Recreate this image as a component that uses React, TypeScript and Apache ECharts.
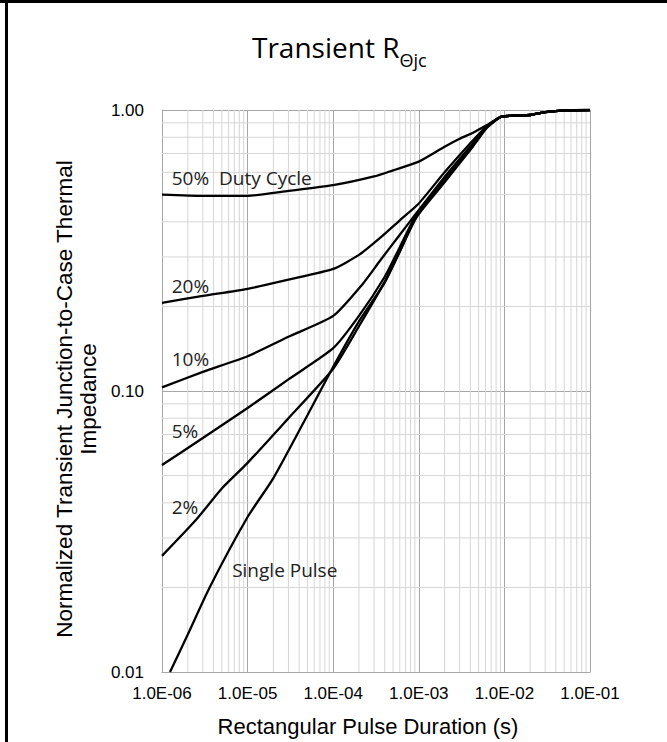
import React, { useEffect, useRef } from "react";
import * as echarts from "echarts";

// ---- tick labels ----
const xTickLabels = ["1.0E-06", "1.0E-05", "1.0E-04", "1.0E-03", "1.0E-02", "1.0E-01"];
const yTickLabels = ["0.01", "0.10", "1.00"];

// minor log grid values (2..9 of every decade)
const xMinor = [2e-6, 3e-6, 4e-6, 5e-6, 6e-6, 7e-6, 8e-6, 9e-6,
  2e-5, 3e-5, 4e-5, 5e-5, 6e-5, 7e-5, 8e-5, 9e-5,
  2e-4, 3e-4, 4e-4, 5e-4, 6e-4, 7e-4, 8e-4, 9e-4,
  2e-3, 3e-3, 4e-3, 5e-3, 6e-3, 7e-3, 8e-3, 9e-3,
  2e-2, 3e-2, 4e-2, 5e-2, 6e-2, 7e-2, 8e-2, 9e-2];
const yMinor = [0.02, 0.03, 0.04, 0.05, 0.06, 0.07, 0.08, 0.09,
  0.2, 0.3, 0.4, 0.5, 0.6, 0.7, 0.8, 0.9];

// ---- series data: pulse duration (s) and normalized Zth ----
const t50 = [1e-6, 3e-6, 1e-5, 3e-5, 1e-4, 3e-4, 5e-4, 1e-3, 2e-3, 3e-3, 4.3e-3, 6.3e-3, 9.3e-3, 2e-2, 3e-2, 5e-2, 1e-1];
const z50 = [0.50, 0.495, 0.495, 0.515, 0.54, 0.58, 0.61, 0.655, 0.74, 0.79, 0.83, 0.885, 0.947, 0.96, 0.982, 0.997, 1.0];

const t20 = [1e-6, 3e-6, 1e-5, 3e-5, 1e-4, 2e-4, 3.5e-4, 6e-4, 1e-3, 2e-3, 4.3e-3, 6.3e-3, 9.3e-3, 2e-2, 3e-2, 5e-2, 1e-1];
const z20 = [0.206, 0.218, 0.231, 0.249, 0.272, 0.305, 0.35, 0.405, 0.465, 0.60, 0.78, 0.88, 0.947, 0.96, 0.982, 0.997, 1.0];

const t10 = [1e-6, 3e-6, 1e-5, 3e-5, 1e-4, 2.2e-4, 3.5e-4, 6e-4, 9.4e-4, 2e-3, 4.3e-3, 6.3e-3, 9.3e-3, 2e-2, 3e-2, 5e-2, 1e-1];
const z10 = [0.103, 0.117, 0.133, 0.156, 0.185, 0.24, 0.29, 0.36, 0.43, 0.578, 0.762, 0.876, 0.947, 0.96, 0.982, 0.997, 1.0];

const t5 = [1e-6, 3e-6, 1e-5, 3e-5, 1e-4, 2e-4, 4e-4, 6e-4, 9.4e-4, 2e-3, 4.3e-3, 6.3e-3, 9.3e-3, 2e-2, 3e-2, 5e-2, 1e-1];
const z5 = [0.0545, 0.068, 0.087, 0.11, 0.142, 0.185, 0.255, 0.325, 0.425, 0.568, 0.755, 0.872, 0.947, 0.96, 0.982, 0.997, 1.0];

const t2 = [1e-6, 2.5e-6, 5e-6, 1e-5, 3e-5, 1e-4, 2e-4, 4e-4, 6e-4, 9.4e-4, 2e-3, 4.3e-3, 6.3e-3, 9.3e-3, 2e-2, 3e-2, 5e-2, 1e-1];
const z2 = [0.0259, 0.0348, 0.045, 0.0555, 0.08, 0.12, 0.17, 0.245, 0.315, 0.42, 0.562, 0.75, 0.87, 0.947, 0.96, 0.982, 0.997, 1.0];

const tSingle = [1.24e-6, 2e-6, 3.6e-6, 1e-5, 2e-5, 5e-5, 1e-4, 2e-4, 4e-4, 6e-4, 9.4e-4, 2e-3, 4.3e-3, 6.3e-3, 9.3e-3, 2e-2, 3e-2, 5e-2, 1e-1];
const zSingle = [0.01, 0.0136, 0.02, 0.0356, 0.049, 0.082, 0.122, 0.177, 0.243, 0.313, 0.415, 0.553, 0.742, 0.866, 0.947, 0.96, 0.982, 0.997, 1.0];

const seriesNames = ["50%", "20%", "10%", "5%", "2%", "Single Pulse"];
const seriesT = [t50, t20, t10, t5, t2, tSingle];
const seriesZ = [z50, z20, z10, z5, z2, zSingle];

// curve annotation text and anchor (duration, Zth)
const curveLabels = ["50%  Duty Cycle", "20%", "10%", "5%", "2%", "Single Pulse"];
const labelT = [1.3e-6, 1.3e-6, 1.3e-6, 1.3e-6, 1.3e-6, 6.6e-6];
const labelZ = [0.575, 0.237, 0.130, 0.0721, 0.0387, 0.0231];

const X_MIN = 1e-6, X_MAX = 1e-1, Y_MIN = 0.01, Y_MAX = 1;

const AXIS_FONT = "'Liberation Sans', Arial, sans-serif";
const TEXT_FONT = "'Open Sans', 'Noto Sans', sans-serif";

export default function App() {
  const ref = useRef<HTMLDivElement>(null);

  useEffect(() => {
    if (!ref.current) return;
    const chart = echarts.init(ref.current, undefined, { renderer: "svg" });

    const curves = seriesNames.map((name, i) => ({
      name,
      type: "line",
      z: 3,
      data: seriesT[i].map((t, k) => [t, seriesZ[i][k]]),
      symbol: "none",
      smooth: 0.2,
      lineStyle: { color: "#000", width: 2.3 },
      itemStyle: { color: "#000" },
      emphasis: { disabled: true },
      markPoint: {
        silent: true,
        symbol: "circle",
        symbolSize: 0,
        data: [{ name: curveLabels[i], coord: [labelT[i], labelZ[i]] }],
        label: {
          show: true,
          position: "right",
          distance: 0,
          formatter: "{b}",
          color: "#222",
          fontSize: 19,
          fontFamily: TEXT_FONT,
        },
      },
    }));

    const vMinorData: any[] = [];
    xMinor.forEach((v) => { vMinorData.push([v, Y_MIN], [v, Y_MAX], [v, "-"]); });
    const hMinorData: any[] = [];
    yMinor.forEach((v) => { hMinorData.push([X_MIN, v], [X_MAX, v], ["-", v]); });

    const minorSeries = (name: string, data: any[]) => ({
      name,
      type: "line",
      z: 1,
      data,
      silent: true,
      symbol: "none",
      connectNulls: false,
      lineStyle: { color: "#d6d6d6", width: 1 },
      emphasis: { disabled: true },
    });

    const option: any = {
      animation: false,
      backgroundColor: "#fff",
      title: {
        text: "{a|Transient R}{b|Θjc}",
        left: 247,
        top: 24,
        textStyle: {
          rich: {
            a: { fontSize: 28, fontWeight: "normal", fontFamily: TEXT_FONT, color: "#000", lineHeight: 36 },
            b: { fontSize: 18, fontWeight: "normal", fontFamily: TEXT_FONT, color: "#000", verticalAlign: "bottom", padding: [0, 0, -4, 0] },
          },
        },
      },
      grid: { left: 162, right: 77, top: 110, bottom: 70 },
      xAxis: {
        type: "log",
        logBase: 10,
        min: X_MIN,
        max: X_MAX,
        name: "Rectangular Pulse Duration (s)",
        nameLocation: "middle",
        nameGap: 43,
        nameTextStyle: { fontSize: 22, fontFamily: AXIS_FONT, color: "#000", padding: [0, 16, 0, 0] },
        axisLine: { show: true, lineStyle: { color: "#a6a6a6", width: 1 } },
        axisTick: { show: false },
        axisLabel: {
          fontSize: 17,
          fontFamily: AXIS_FONT,
          color: "#000",
          margin: 13,
          formatter: (v: number) => xTickLabels[Math.round(Math.log10(v)) + 6],
        },
        splitLine: { show: true, lineStyle: { color: "#a6a6a6", width: 1 } },
      },
      yAxis: {
        type: "log",
        logBase: 10,
        min: Y_MIN,
        max: Y_MAX,
        name: "Normalized Transient Junction-to-Case Thermal\nImpedance",
        nameLocation: "middle",
        nameGap: 62,
        nameTextStyle: { fontSize: 22.5, lineHeight: 24, fontFamily: AXIS_FONT, color: "#000", padding: [0, 16, 0, 0] },
        axisLine: { show: true, lineStyle: { color: "#a6a6a6", width: 1 } },
        axisTick: { show: false },
        axisLabel: {
          fontSize: 17,
          fontFamily: AXIS_FONT,
          color: "#000",
          margin: 18,
          formatter: (v: number) => yTickLabels[Math.round(Math.log10(v)) + 2],
        },
        splitLine: { show: true, lineStyle: { color: "#a6a6a6", width: 1 } },
      },
      graphic: [
        { type: "line", shape: { x1: 0, y1: 1.5, x2: 667, y2: 1.5 }, style: { stroke: "#000", lineWidth: 3 }, z: 10 },
        { type: "line", shape: { x1: 6.5, y1: 0, x2: 6.5, y2: 742 }, style: { stroke: "#000", lineWidth: 3 }, z: 10 },
      ],
      series: [
        minorSeries("minor-x", vMinorData),
        minorSeries("minor-y", hMinorData),
        ...curves,
      ],
    };

    chart.setOption(option);
    return () => chart.dispose();
  }, []);

  return (
    <div
      ref={ref}
      style={{ position: "absolute", left: 0, top: 0, width: 667, height: 742, background: "#fff" }}
    />
  );
}
